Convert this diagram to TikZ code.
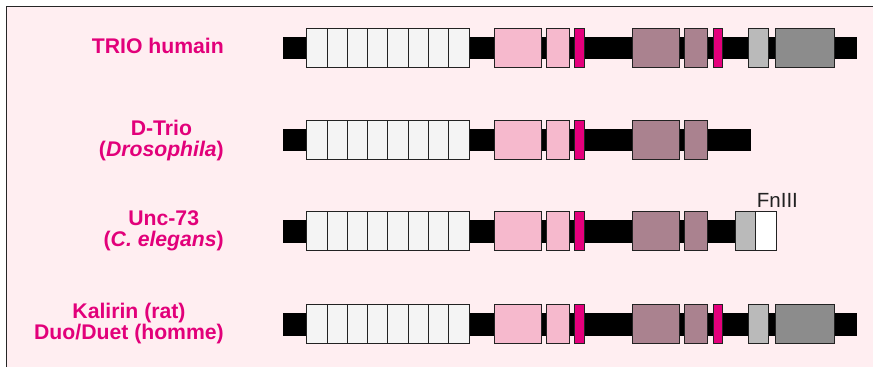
\documentclass[tikz,border=0pt]{standalone}
\usepackage{fontspec}
\setmainfont{Liberation Sans}
\definecolor{bgpink}{HTML}{FFEEF1}
\definecolor{labmag}{HTML}{E2007A}
\definecolor{boxmag}{HTML}{E4007C}
\definecolor{boxpink}{HTML}{F6B9CD}
\definecolor{boxmauve}{HTML}{AA828F}
\definecolor{boxlgray}{HTML}{BABABA}
\definecolor{boxdgray}{HTML}{8C8C8C}
\definecolor{boxwhite}{HTML}{F4F4F4}
\definecolor{boxline}{HTML}{222222}
\newcommand\protbar[2]{\fill[black] (283.3,#1-11.3) rectangle (#2,#1+11.3);}
\newcommand\dbox[4]{\filldraw[domainbox,fill=#4] (#2,#1-19.5) rectangle (#3,#1+19.5);}
\newcommand\spectrin[1]{\foreach \i in {0,...,7}{\filldraw[domainbox,fill=boxwhite] (306.7+\i*20.29,#1-19.5) rectangle (306.7+\i*20.29+20.29,#1+19.5);}}
\newcommand\gefA[1]{\dbox{#1}{494}{541}{boxpink}\dbox{#1}{546.3}{569.7}{boxpink}\dbox{#1}{574.7}{584.3}{boxmag}}
\newcommand\gefB[1]{\dbox{#1}{632.3}{679.3}{boxmauve}\dbox{#1}{684.3}{707.7}{boxmauve}}
\begin{document}
\begin{tikzpicture}[x=1pt,y=-1pt,
  domainbox/.style={draw=boxline, line width=0.9pt},
  lab/.style={font=\fontsize{21.2}{21}\selectfont\bfseries, text=labmag, align=center, anchor=base east, inner sep=0pt},
  fn/.style={font=\fontsize{20.5}{21}\selectfont, text=boxline, anchor=base west, inner sep=0pt}]
\useasboundingbox (0,0) rectangle (873,367);
\fill[white] (0,0) rectangle (873,367);
\fill[bgpink] (6.5,6.5) rectangle (873,367);
\draw[line width=1.2pt, black!85] (6.5,367) -- (6.5,6.5) -- (873,6.5);
% row 1
\protbar{47.8}{857.3}
\spectrin{47.8}
\gefA{47.8}
\gefB{47.8}
\dbox{47.8}{713}{722.3}{boxmag}
\dbox{47.8}{748}{768.3}{boxlgray}
\dbox{47.8}{775.3}{834}{boxdgray}
% row 2
\protbar{139.8}{750.7}
\spectrin{139.8}
\gefA{139.8}
\gefB{139.8}
% row 3
\protbar{231.2}{735}
\spectrin{231.2}
\gefA{231.2}
\gefB{231.2}
\dbox{231.2}{735}{755.3}{boxlgray}
\dbox{231.2}{755.3}{776}{white}
% row 4
\protbar{324.2}{857.3}
\spectrin{324.2}
\gefA{324.2}
\gefB{324.2}
\dbox{324.2}{713}{722.3}{boxmag}
\dbox{324.2}{748}{768.3}{boxlgray}
\dbox{324.2}{775.3}{834}{boxdgray}
% labels
\node[lab] (lab1) at (224,53.3) {TRIO humain};
\node[lab] (lab2) at (224,156) {D-Trio\\(\textit{Drosophila})};
\node[lab] (lab3) at (224,246.7) {Unc-73\\(\textit{C. elegans})};
\node[lab] (lab4) at (224,339.3) {Kalirin (rat)\\Duo/Duet (homme)};
\node[fn] (fn3) at (756.7,207) {FnIII};
\end{tikzpicture}
\end{document}
